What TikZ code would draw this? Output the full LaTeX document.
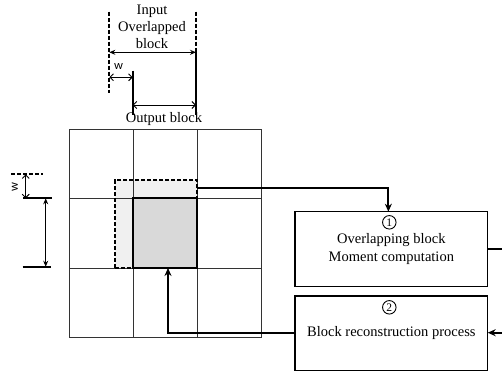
\documentclass[tikz,border=0pt]{standalone}
\usepackage{fontspec}
\setmainfont{Liberation Serif}
\newfontfamily\wfont{Carlito}
\usetikzlibrary{arrows.meta}
\definecolor{outgray}{HTML}{D9D9D9}
\begin{document}
\begin{tikzpicture}[x=1pt,y=-1pt,
  gridln/.style={draw=black!80, line width=1pt},
  dimln/.style={line width=2pt},
  dashln/.style={line width=1.9pt, dash pattern=on 4pt off 2pt},
  conn/.style={line width=2pt},
  openarr/.style={line width=0.9pt, {Straight Barb[length=3.5pt,width=7pt]}-{Straight Barb[length=3.5pt,width=7pt]}},
  fillarr/.style={line width=0.9pt, {Stealth[length=6pt,width=5pt]}-{Stealth[length=6pt,width=5pt]}},
  connarr/.style={conn, -{Stealth[length=8pt,width=7pt]}},
  procbox/.style={draw, line width=1.2pt, minimum width=192.7pt, minimum height=74.5pt, inner sep=0pt, outer sep=0pt, anchor=north west, align=center, font=\fontsize{14.5}{17.7}\selectfont},
  numc/.style={circle, draw, line width=0.9pt, minimum size=13.5pt, inner sep=0pt, font=\fontsize{11.5}{11.5}\selectfont},
  lbl/.style={font=\fontsize{14.5}{17}\selectfont, align=center, inner sep=0pt},
  wlbl/.style={font=\wfont\fontsize{12.5}{12.5}\selectfont, inner sep=0pt},
  inblock/.style={draw, dash pattern=on 4pt off 2pt, line width=1.7pt, fill=black, fill opacity=0.06, draw opacity=1, minimum width=82.3pt, minimum height=87.7pt, inner sep=0pt, outer sep=0pt, anchor=north west},
  outblock/.style={draw, line width=2pt, fill=outgray, minimum width=64pt, minimum height=70pt, inner sep=0pt, outer sep=0pt, anchor=north west}
]
\useasboundingbox (0,0) rectangle (502,372);

% grid
\draw[gridln] (69,129) rectangle (261,337);
\draw[gridln] (133,129) -- (133,337) (197,129) -- (197,337)
              (69,198) -- (261,198) (69,268) -- (261,268);

% blocks
\node[inblock] (inb) at (114.7,180.3) {};
\node[outblock] (outb) at (133,198) {};

% process boxes
\node[procbox] (b1) at (295,211.7) {Overlapping block\\Moment computation};
\node[procbox] (b2) at (295,296) {Block reconstruction process};
\node[numc] (n1) at (389.3,222.3) {1};
\node[numc] (n2) at (389.3,307.3) {2};

% connectors
\coordinate (c1) at (197,188.3);
\coordinate (r1) at (502,250.5);
\coordinate (r2) at (502,332.7);
\draw[connarr] (c1) -| ([xshift=-3pt]b1.north);
\draw[conn] (b1.east) -- (b1.east -| r1);
\draw[connarr] (r2) -- (r2 -| b2.east);
\draw[connarr] (b2.west) -| ([xshift=3pt]outb.south);

% top dimensions
\coordinate (a1) at (109.3,11.7);
\coordinate (a2) at (109.3,92.7);
\coordinate (a3) at (196,11.7);
\coordinate (a4) at (196,50);
\coordinate (a5) at (196,115);
\coordinate (a6) at (132.7,70.7);
\coordinate (a7) at (132.7,115);
\draw[dashln] (a1) -- (a2);
\draw[dashln] (a3) -- (a4);
\draw[dimln] (a4) -- (a5);
\draw[dimln] (a6) -- (a7);
\coordinate (d1) at (109.3,52.3);
\coordinate (d2) at (196,52.3);
\coordinate (d3) at (109.3,77.3);
\coordinate (d4) at (132.7,77.3);
\coordinate (d5) at (132.7,105);
\coordinate (d6) at (196,105);
\draw[fillarr] (d1) -- (d2);
\draw[openarr] (d3) -- (d4);
\draw[openarr] (d5) -- (d6);
\node[lbl] (tin) at (152,27) {Input\\Overlapped\\block};
\node[wlbl] (w1) at (118.5,66.5) {w};
\node[lbl] (tout) at (164,119.5) {Output block};

% left dimensions
\coordinate (l1) at (11,174.3);
\coordinate (l2) at (42.7,174.3);
\coordinate (l3) at (23.3,198.3);
\coordinate (l4) at (51.7,198.3);
\coordinate (l5) at (22.7,266.7);
\coordinate (l6) at (51,266.7);
\draw[dashln] (l1) -- (l2);
\draw[dimln] (l3) -- (l4);
\draw[dimln] (l5) -- (l6);
\coordinate (v1) at (25.7,174.3);
\coordinate (v2) at (25.7,198.3);
\coordinate (v3) at (45.7,198.3);
\coordinate (v4) at (45.7,266.7);
\draw[openarr] (v1) -- (v2);
\draw[fillarr] (v3) -- (v4);
\node[wlbl, rotate=90] (w2) at (15,186.7) {w};
\end{tikzpicture}
\end{document}
